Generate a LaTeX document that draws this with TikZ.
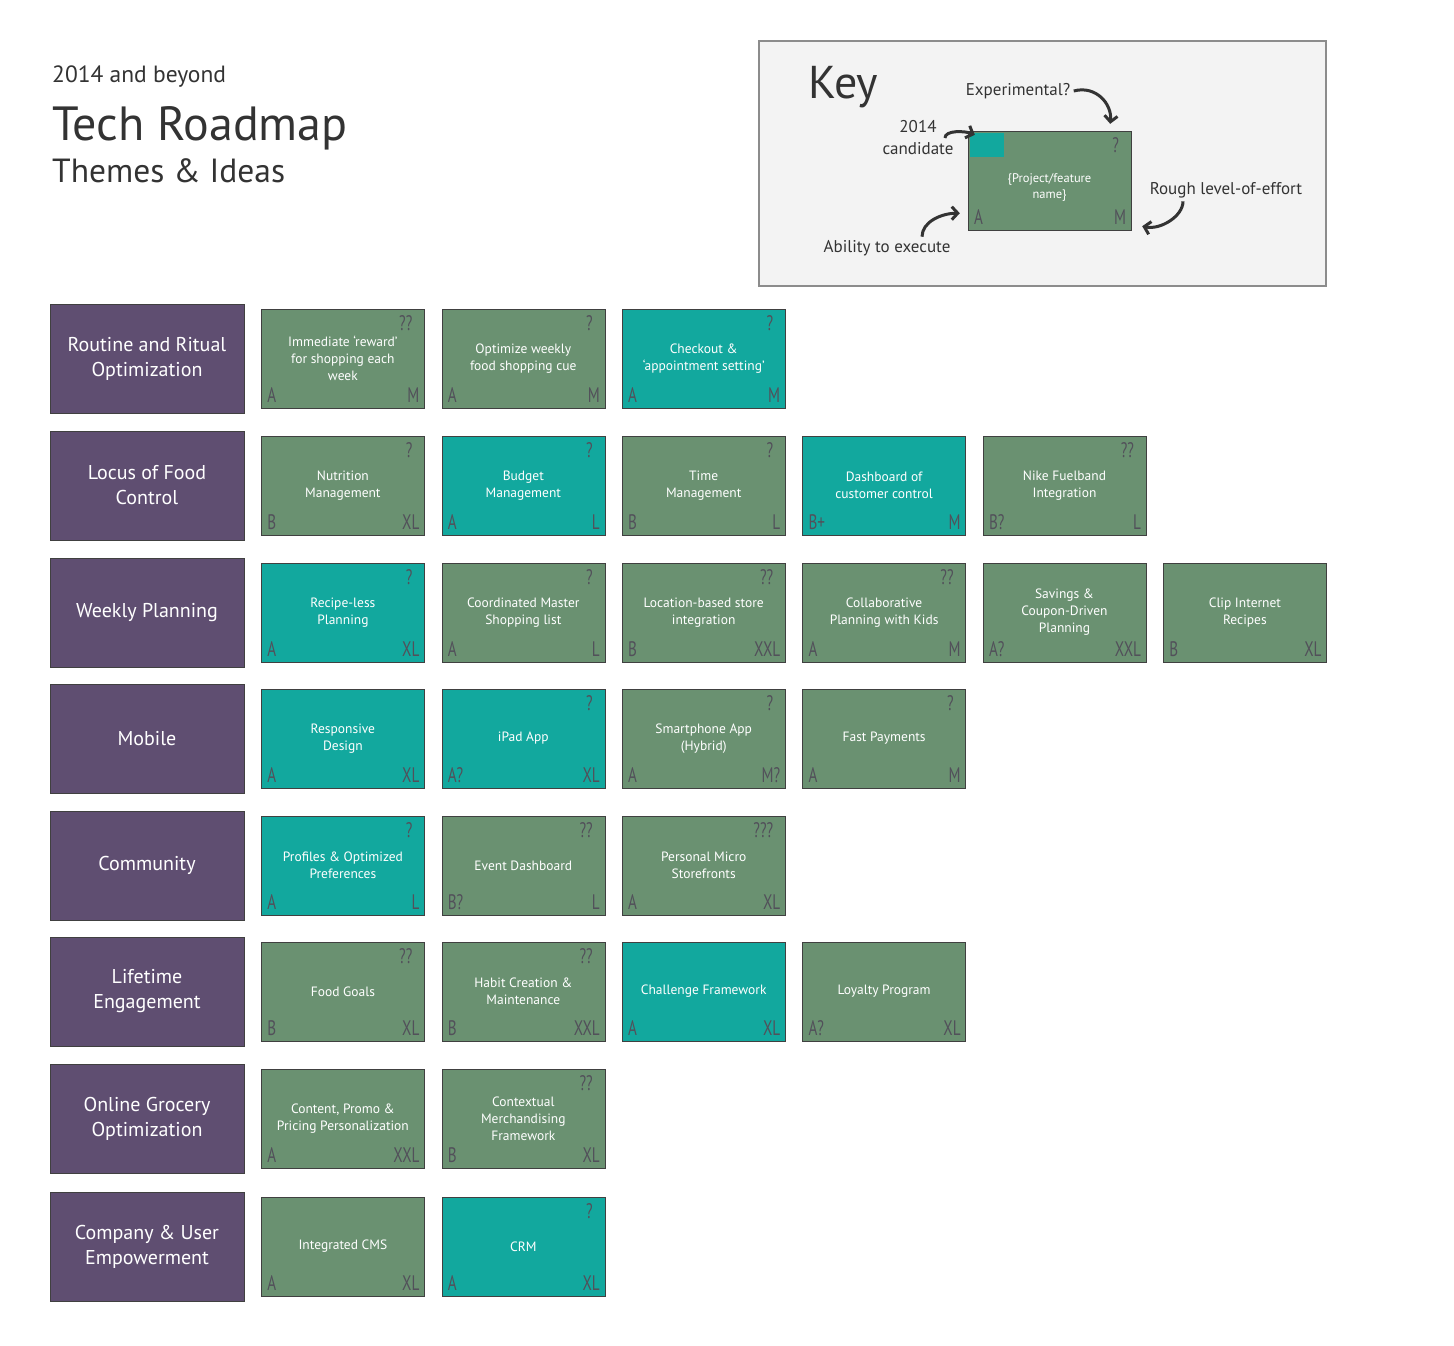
\documentclass[tikz,border=0pt]{standalone}
\usepackage{fontspec}
\setmainfont{PT Sans}
\newfontfamily\narrowfont[FakeStretch=0.72]{PT Sans}
\usepackage{tikz}
\usetikzlibrary{positioning,arrows.meta}

\definecolor{themepurple}{RGB}{95,78,113}
\definecolor{ideagreen}{RGB}{106,145,113}
\definecolor{ideateal}{RGB}{18,168,158}
\definecolor{cornergray}{RGB}{82,80,90}
\definecolor{inkgray}{RGB}{51,51,51}
\definecolor{keyfill}{RGB}{243,243,243}
\definecolor{keyline}{RGB}{140,140,140}

\begin{document}
\begin{tikzpicture}[x=1pt,y=-1pt,node distance=17pt,
    theme/.style={draw=black!75, fill=themepurple, text=white, minimum width=194pt, minimum height=109pt, inner sep=0pt, align=center, font=\fontsize{20}{25}\selectfont},
    idea/.style={draw=black!75, minimum width=163pt, minimum height=99pt, inner sep=0pt, text=white, align=center, font=\fontsize{13.5}{17}\selectfont},
    green idea/.style={idea, fill=ideagreen},
    teal idea/.style={idea, fill=ideateal},
    corner/.style={text=cornergray, inner xsep=6pt, inner ysep=5.5pt, font=\narrowfont\fontsize{21}{21}\selectfont},
    ability/.style={label={[corner, anchor=south west]south west:#1}},
    effort/.style={label={[corner, anchor=south east, inner xsep=5pt]south east:#1}},
    risk/.style={label={[corner, anchor=north east, inner xsep=12pt, inner ysep=7pt]north east:#1}},
    heading/.style={text=inkgray, anchor=base west, inner sep=0pt},
    keytext/.style={text=inkgray, align=center, font=\fontsize{17}{22}\selectfont},
    keyarrow/.style={draw=inkgray, line width=3pt, -{Straight Barb[length=6pt, width=13pt]}}]
  \useasboundingbox (0,0) rectangle (1454,1345);

  % titles
  \node[heading, font=\fontsize{23.5}{24}\selectfont] (subtitle) at (52,82) {2014 and beyond};
  \node[heading, font=\fontsize{48}{48}\selectfont] (title) at (52,140) {Tech Roadmap};
  \node[heading, font=\fontsize{33.5}{34}\selectfont] (subhead) at (52,182) {Themes \& Ideas};

  % key
  \node[draw=keyline, fill=keyfill, line width=1.2pt, minimum width=567pt, minimum height=245pt] (keybox) at (1042.5,163.5) {};
  \node[heading, font=\fontsize{46}{46}\selectfont] (keytitle) at (808,98) {Key};
  \node[green idea, risk=?, ability=A, effort=M,
        label={[text=white, align=center, yshift=-7pt, font=\fontsize{12.5}{16}\selectfont]center:{\{Project/feature\\name\}}}] (keycard) at (1049.5,180.5) {};
  \fill[ideateal] ([shift={(2,2)}]keycard.north west) rectangle +(34,24);
  \node[keytext] (keyexp) at (1018,91) {Experimental?};
  \node[keytext] (keycand) at (918,138) {2014\\candidate};
  \node[keytext] (keyeffort) at (1226,190) {Rough level-of-effort};
  \node[keytext] (keyability) at (887,248) {Ability to execute};
  \draw[keyarrow] (keyexp.east) .. controls +(22,-6) and +(2,-20) .. ([shift={(-21,-7)}]keycard.north east);
  \draw[keyarrow] ([xshift=-12pt]keycand.east) .. controls +(0,-8) and +(-10,-4) .. ([shift={(7,4)}]keycard.north west);
  \draw[keyarrow] ([xshift=-43pt]keyeffort.south) .. controls +(0,15) and +(18,4) .. ([shift={(11,-4)}]keycard.south east);
  \draw[keyarrow] ([xshift=35pt]keyability.north) .. controls +(0,-15) and +(-18,0) .. ([shift={(-8,-17)}]keycard.south west);

  % themes
  \node[theme] (routine) at (147,358.5) {Routine and Ritual\\Optimization};
  \node[theme] (locus) at (147,485.5) {Locus of Food\\Control};
  \node[theme] (weekly) at (147,612.5) {Weekly Planning};
  \node[theme] (mobile) at (147,738.5) {Mobile};
  \node[theme] (community) at (147,865.5) {Community};
  \node[theme] (lifetime) at (147,991.5) {Lifetime\\Engagement};
  \node[theme] (grocery) at (147,1118.5) {Online Grocery\\Optimization};
  \node[theme] (company) at (147,1246.5) {Company \& User\\Empowerment};

  % ideas
  \node[green idea, risk=??, ability=A, effort=M] (rewardweek) [right=of routine] {Immediate ‘reward’\\for shopping each\\week};
  \node[green idea, risk=?, ability=A, effort=M] (weeklycue) [right=of rewardweek] {Optimize weekly\\food shopping cue};
  \node[teal idea, risk=?, ability=A, effort=M] (checkout) [right=of weeklycue] {Checkout \&\\‘appointment setting’};

  \node[green idea, risk=?, ability=B, effort=XL] (nutrition) [right=of locus] {Nutrition\\Management};
  \node[teal idea, risk=?, ability=A, effort=L] (budget) [right=of nutrition] {Budget\\Management};
  \node[green idea, risk=?, ability=B, effort=L] (timemgmt) [right=of budget] {Time\\Management};
  \node[teal idea, ability=B+, effort=M] (dashboard) [right=of timemgmt] {Dashboard of\\customer control};
  \node[green idea, risk=??, ability=B?, effort=L] (fuelband) [right=of dashboard] {Nike Fuelband\\Integration};

  \node[teal idea, risk=?, ability=A, effort=XL] (recipeless) [right=of weekly] {Recipe-less\\Planning};
  \node[green idea, risk=?, ability=A, effort=L] (mastershop) [right=of recipeless] {Coordinated Master\\Shopping list};
  \node[green idea, risk=??, ability=B, effort=XXL] (locstore) [right=of mastershop] {Location-based store\\integration};
  \node[green idea, risk=??, ability=A, effort=M] (kidsplan) [right=of locstore] {Collaborative\\Planning with Kids};
  \node[green idea, ability=A?, effort=XXL] (coupons) [right=of kidsplan] {Savings \&\\Coupon-Driven\\Planning};
  \node[green idea, ability=B, effort=XL] (cliprecipes) [right=of coupons] {Clip Internet\\Recipes};

  \node[teal idea, ability=A, effort=XL] (responsive) [right=of mobile] {Responsive\\Design};
  \node[teal idea, risk=?, ability=A?, effort=XL] (ipad) [right=of responsive] {iPad App};
  \node[green idea, risk=?, ability=A, effort=M?] (smartphone) [right=of ipad] {Smartphone App\\(Hybrid)};
  \node[green idea, risk=?, ability=A, effort=M] (fastpay) [right=of smartphone] {Fast Payments};

  \node[teal idea, risk=?, ability=A, effort=L] (profiles) [right=of community] {Profiles \& Optimized\\Preferences};
  \node[green idea, risk=??, ability=B?, effort=L] (eventdash) [right=of profiles] {Event Dashboard};
  \node[green idea, risk=???, ability=A, effort=XL] (microstore) [right=of eventdash] {Personal Micro\\Storefronts};

  \node[green idea, risk=??, ability=B, effort=XL] (foodgoals) [right=of lifetime] {Food Goals};
  \node[green idea, risk=??, ability=B, effort=XXL] (habits) [right=of foodgoals] {Habit Creation \&\\Maintenance};
  \node[teal idea, ability=A, effort=XL] (challenge) [right=of habits] {Challenge Framework};
  \node[green idea, ability=A?, effort=XL] (loyalty) [right=of challenge] {Loyalty Program};

  \node[green idea, ability=A, effort=XXL] (promo) [right=of grocery] {Content, Promo \&\\Pricing Personalization};
  \node[green idea, risk=??, ability=B, effort=XL] (merch) [right=of promo] {Contextual\\Merchandising\\Framework};

  \node[green idea, ability=A, effort=XL] (cms) [right=of company] {Integrated CMS};
  \node[teal idea, risk=?, ability=A, effort=XL] (crm) [right=of cms] {CRM};
\end{tikzpicture}
\end{document}
